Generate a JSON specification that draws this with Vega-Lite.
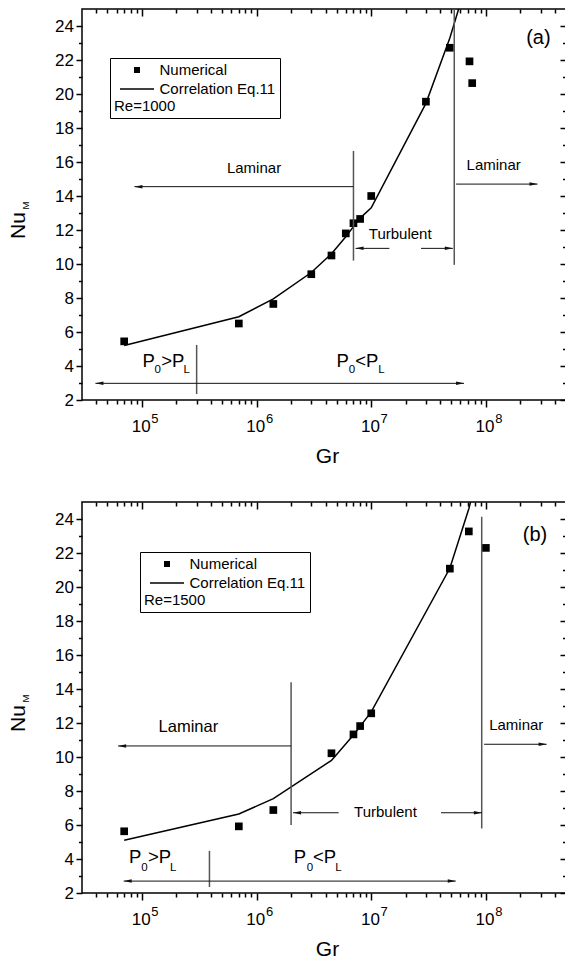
{
  "$schema": "https://vega.github.io/schema/vega-lite/v6.json",
  "padding": {"left": 6, "top": 7, "right": 0, "bottom": 0},
  "bounds": "flush",
  "spacing": 102,
  "resolve": {"scale": {"shape": "independent"}, "legend": {"shape": "independent"}},
  "config": {
    "font": "Liberation Sans",
    "view": {"stroke": "black", "strokeWidth": 1.5},
    "axis": {"domain": false, "grid": false, "tickColor": "black", "tickWidth": 1.5, "labelColor": "black", "titleColor": "black", "titleFontWeight": "normal", "labelFontSize": 17, "titleFontSize": 21, "labelFont": "Liberation Sans", "titleFont": "Liberation Sans"},
    "legend": {"labelFont": "Liberation Sans", "titleFont": "Liberation Sans", "labelFontSize": 15, "titleFontSize": 15, "titleFontWeight": "normal", "labelColor": "black", "titleColor": "black"},
    "text": {"font": "Liberation Sans", "color": "black"}
  },
  "datasets": {
    "num_a": [
      {"Gr": 70000, "Nu": 5.45, "series": "Numerical"},
      {"Gr": 700000, "Nu": 6.5, "series": "Numerical"},
      {"Gr": 1400000, "Nu": 7.65, "series": "Numerical"},
      {"Gr": 3000000, "Nu": 9.4, "series": "Numerical"},
      {"Gr": 4500000, "Nu": 10.5, "series": "Numerical"},
      {"Gr": 6000000, "Nu": 11.8, "series": "Numerical"},
      {"Gr": 7000000, "Nu": 12.4, "series": "Numerical"},
      {"Gr": 8000000, "Nu": 12.65, "series": "Numerical"},
      {"Gr": 10000000, "Nu": 14.0, "series": "Numerical"},
      {"Gr": 30000000, "Nu": 19.55, "series": "Numerical"},
      {"Gr": 48500000, "Nu": 22.72, "series": "Numerical"},
      {"Gr": 72000000, "Nu": 21.92, "series": "Numerical"},
      {"Gr": 76000000, "Nu": 20.64, "series": "Numerical"}
    ],
    "line_a": [
      {"Gr": 70000, "Nu": 5.2},
      {"Gr": 700000, "Nu": 6.9},
      {"Gr": 1400000, "Nu": 7.95},
      {"Gr": 3000000, "Nu": 9.5},
      {"Gr": 4500000, "Nu": 10.6},
      {"Gr": 6000000, "Nu": 11.6},
      {"Gr": 7000000, "Nu": 12.2},
      {"Gr": 8000000, "Nu": 12.7},
      {"Gr": 10000000, "Nu": 13.3},
      {"Gr": 30000000, "Nu": 19.45},
      {"Gr": 48500000, "Nu": 23.3},
      {"Gr": 72000000, "Nu": 27.1}
    ],
    "vlines_a": [
      {"Gr": 7000000, "y1": 10.2, "y2": 16.65},
      {"Gr": 53000000, "y1": 9.95, "y2": 25},
      {"Gr": 300000, "y1": 2.35, "y2": 5.24}
    ],
    "arrows_a": [
      {"x1": 7000000, "x2": 86000, "y": 14.55},
      {"x1": 55000000, "x2": 282000000, "y": 14.7},
      {"x1": 14400000, "x2": 7300000, "y": 10.92},
      {"x1": 27200000, "x2": 51500000, "y": 10.92},
      {"x1": 300000, "x2": 39300, "y": 2.98},
      {"x1": 300000, "x2": 64500000, "y": 2.98}
    ],
    "labels_a": [
      {"Gr": 950000, "Nu": 15.33, "text": "Laminar"},
      {"Gr": 117000000, "Nu": 15.53, "text": "Laminar"},
      {"Gr": 17900000, "Nu": 11.45, "text": "Turbulent"}
    ],
    "pbig_a": [
      {"Gr": 101000, "Nu": 3.96, "text": "P"},
      {"Gr": 147000, "Nu": 3.96, "text": ">P"},
      {"Gr": 4990000, "Nu": 3.96, "text": "P"},
      {"Gr": 7260000, "Nu": 3.96, "text": "<P"}
    ],
    "psmall_a": [
      {"Gr": 129000, "Nu": 3.57, "text": "0"},
      {"Gr": 230000, "Nu": 3.57, "text": "L"},
      {"Gr": 6370000, "Nu": 3.57, "text": "0"},
      {"Gr": 11500000, "Nu": 3.57, "text": "L"}
    ],
    "tag_a": [{"Gr": 287000000, "Nu": 23.32, "text": "(a)"}],
    "num_b": [
      {"Gr": 70000, "Nu": 5.63, "series": "Numerical"},
      {"Gr": 700000, "Nu": 5.92, "series": "Numerical"},
      {"Gr": 1400000, "Nu": 6.88, "series": "Numerical"},
      {"Gr": 4500000, "Nu": 10.22, "series": "Numerical"},
      {"Gr": 7000000, "Nu": 11.33, "series": "Numerical"},
      {"Gr": 8000000, "Nu": 11.82, "series": "Numerical"},
      {"Gr": 10000000, "Nu": 12.57, "series": "Numerical"},
      {"Gr": 48500000, "Nu": 21.08, "series": "Numerical"},
      {"Gr": 71000000, "Nu": 23.27, "series": "Numerical"},
      {"Gr": 100000000, "Nu": 22.3, "series": "Numerical"}
    ],
    "line_b": [
      {"Gr": 70000, "Nu": 5.1},
      {"Gr": 700000, "Nu": 6.65},
      {"Gr": 1400000, "Nu": 7.55},
      {"Gr": 4500000, "Nu": 9.8},
      {"Gr": 7000000, "Nu": 11.3},
      {"Gr": 8000000, "Nu": 11.8},
      {"Gr": 10000000, "Nu": 12.65},
      {"Gr": 48500000, "Nu": 21.1},
      {"Gr": 71000000, "Nu": 24.6},
      {"Gr": 100000000, "Nu": 28.5}
    ],
    "vlines_b": [
      {"Gr": 2000000, "y1": 6.0, "y2": 14.4},
      {"Gr": 92000000, "y1": 5.8, "y2": 24.13},
      {"Gr": 388000, "y1": 2.35, "y2": 4.48}
    ],
    "arrows_b": [
      {"x1": 2000000, "x2": 62000, "y": 10.65},
      {"x1": 96500000, "x2": 339000000, "y": 10.75},
      {"x1": 5200000, "x2": 2080000, "y": 6.72},
      {"x1": 40600000, "x2": 92300000, "y": 6.72},
      {"x1": 388000, "x2": 69300, "y": 2.7},
      {"x1": 388000, "x2": 54600000, "y": 2.7}
    ],
    "labels_b": [
      {"Gr": 184000000, "Nu": 11.59, "text": "Laminar"},
      {"Gr": 13300000, "Nu": 6.49, "text": "Turbulent"}
    ],
    "labels16_b": [
      {"Gr": 254000, "Nu": 11.45, "text": "Laminar"}
    ],
    "pbig_b": [
      {"Gr": 77100, "Nu": 3.75, "text": "P"},
      {"Gr": 113000, "Nu": 3.75, "text": ">P"},
      {"Gr": 2110000, "Nu": 3.75, "text": "P"},
      {"Gr": 3100000, "Nu": 3.75, "text": "<P"}
    ],
    "psmall_b": [
      {"Gr": 98600, "Nu": 3.31, "text": "0"},
      {"Gr": 176000, "Nu": 3.31, "text": "L"},
      {"Gr": 2740000, "Nu": 3.31, "text": "0"},
      {"Gr": 4860000, "Nu": 3.31, "text": "L"}
    ],
    "tag_b": [{"Gr": 268000000, "Nu": 23.06, "text": "(b)"}],
    "sub": [{"Gr": 9740, "Nu": 13.44, "text": "M"}]
  },
  "vconcat": [
    {
      "width": 484, "height": 391,
      "resolve": {"axis": {"x": "independent", "y": "independent"}},
      "layer": [
        {
          "data": {"name": "num_a"},
          "mark": {"type": "point", "filled": true, "color": "black", "opacity": 1, "size": 420},
          "encoding": {
            "x": {"field": "Gr", "type": "quantitative", "scale": {"type": "log", "domain": [30000, 500000000], "nice": false},
                  "axis": {"orient": "bottom", "values": [100000, 1000000, 10000000, 100000000], "labelExpr": "'10'", "tickSize": 7, "labelPadding": 24.7, "labelBaseline": "alphabetic", "labelOffset": -1.3, "labelFlush": false, "labelOverlap": false, "title": "Gr", "titleX": 245, "titleY": 62, "titleBaseline": "alphabetic"}},
            "y": {"field": "Nu", "type": "quantitative", "scale": {"domain": [2, 25], "nice": false, "zero": false},
                  "axis": {"orient": "left", "values": [2, 4, 6, 8, 10, 12, 14, 16, 18, 20, 22, 24], "tickSize": 6, "labelPadding": 2.5, "title": "Nu", "titleY": 216, "titlePadding": 26}},
            "shape": {"field": "series", "type": "nominal",
                      "scale": {"domain": ["Numerical", "Correlation Eq.11"], "range": ["M-0.375,-0.375H0.375V0.375H-0.375Z", "M-2.125,-0.094H2.125V0.094H-2.125Z"]},
                      "legend": {"title": "Re=1000", "orient": "none", "legendX": 28, "legendY": 49, "titleOrient": "bottom", "titlePadding": 2, "symbolSize": 256, "symbolOffset": 15, "labelOffset": 14.5, "padding": 4, "rowPadding": 3, "strokeColor": "black", "fillColor": "white", "symbolStrokeWidth": 0, "symbolFillColor": "black", "symbolOpacity": 1}}
          }
        },
        {
          "data": {"name": "line_a"},
          "mark": {"type": "line", "color": "black", "strokeWidth": 1.5, "clip": true},
          "encoding": {
            "x": {"field": "Gr", "type": "quantitative", "scale": {"type": "log", "domain": [30000, 500000000], "nice": false},
                  "axis": {"orient": "bottom", "values": [40000, 50000, 60000, 70000, 80000, 90000, 200000, 300000, 400000, 500000, 600000, 700000, 800000, 900000, 2000000, 3000000, 4000000, 5000000, 6000000, 7000000, 8000000, 9000000, 20000000, 30000000, 40000000, 50000000, 60000000, 70000000, 80000000, 90000000, 200000000, 300000000, 400000000], "labels": false, "tickSize": 4, "title": null}},
            "y": {"field": "Nu", "type": "quantitative", "scale": {"domain": [2, 25], "nice": false, "zero": false},
                  "axis": {"orient": "left", "values": [3, 5, 7, 9, 11, 13, 15, 17, 19, 21, 23], "labels": false, "tickSize": 3.5, "title": null}}
          }
        },
        {
          "data": {"name": "vlines_a"},
          "mark": {"type": "rule", "color": "#555555", "strokeWidth": 1.5},
          "encoding": {
            "x": {"field": "Gr", "type": "quantitative", "scale": {"type": "log", "domain": [30000, 500000000], "nice": false},
                  "axis": {"orient": "top", "values": [100000, 1000000, 10000000, 100000000], "labels": false, "tickSize": 7, "offset": -7, "title": null}},
            "y": {"field": "y1", "type": "quantitative", "scale": {"domain": [2, 25], "nice": false, "zero": false},
                  "axis": {"orient": "right", "values": [2, 4, 6, 8, 10, 12, 14, 16, 18, 20, 22, 24], "labels": false, "tickSize": 6, "offset": -6, "title": null}},
            "y2": {"field": "y2"}
          }
        },
        {
          "data": {"name": "arrows_a"},
          "mark": {"type": "rule", "color": "#111111", "strokeWidth": 1},
          "encoding": {
            "x": {"field": "x1", "type": "quantitative", "scale": {"type": "log", "domain": [30000, 500000000], "nice": false},
                  "axis": {"orient": "top", "values": [40000, 50000, 60000, 70000, 80000, 90000, 200000, 300000, 400000, 500000, 600000, 700000, 800000, 900000, 2000000, 3000000, 4000000, 5000000, 6000000, 7000000, 8000000, 9000000, 20000000, 30000000, 40000000, 50000000, 60000000, 70000000, 80000000, 90000000, 200000000, 300000000, 400000000], "labels": false, "tickSize": 4, "offset": -4, "title": null}},
            "x2": {"field": "x2"},
            "y": {"field": "y", "type": "quantitative", "scale": {"domain": [2, 25], "nice": false, "zero": false},
                  "axis": {"orient": "right", "values": [3, 5, 7, 9, 11, 13, 15, 17, 19, 21, 23], "labels": false, "tickSize": 3.5, "offset": -3.5, "title": null}}
          }
        },
        {
          "data": {"name": "arrows_a"},
          "transform": [{"filter": "datum.x2 < datum.x1"}],
          "mark": {"type": "point", "shape": "M0,0L4,-0.875L4,0.875Z", "filled": true, "color": "#111111", "opacity": 1, "size": 16},
          "encoding": {
            "x": {"field": "x2", "type": "quantitative", "scale": {"type": "log", "domain": [30000, 500000000], "nice": false}, "axis": null},
            "y": {"field": "y", "type": "quantitative", "scale": {"domain": [2, 25], "nice": false, "zero": false}, "axis": null}
          }
        },
        {
          "data": {"name": "arrows_a"},
          "transform": [{"filter": "datum.x2 > datum.x1"}],
          "mark": {"type": "point", "shape": "M0,0L-4,-0.875L-4,0.875Z", "filled": true, "color": "#111111", "opacity": 1, "size": 16},
          "encoding": {
            "x": {"field": "x2", "type": "quantitative", "scale": {"type": "log", "domain": [30000, 500000000], "nice": false}, "axis": null},
            "y": {"field": "y", "type": "quantitative", "scale": {"domain": [2, 25], "nice": false, "zero": false}, "axis": null}
          }
        },
        {
          "data": {"name": "labels_a"},
          "mark": {"type": "text", "fontSize": 15, "align": "center", "baseline": "alphabetic"},
          "encoding": {
            "x": {"field": "Gr", "type": "quantitative", "scale": {"type": "log", "domain": [30000, 500000000], "nice": false},
                  "axis": {"orient": "bottom", "values": [100000, 1000000, 10000000, 100000000], "labelExpr": "datum.value == 100000 ? '5' : datum.value == 1000000 ? '6' : datum.value == 10000000 ? '7' : '8'", "labelFontSize": 13, "tickSize": 0, "tickOpacity": 0, "labelPadding": 22.7, "labelBaseline": "alphabetic", "labelOffset": 12.5, "labelFlush": false, "labelOverlap": false, "title": null}},
            "y": {"field": "Nu", "type": "quantitative", "scale": {"domain": [2, 25], "nice": false, "zero": false}, "axis": null},
            "text": {"field": "text"}
          }
        },
        {
          "data": {"name": "pbig_a"},
          "mark": {"type": "text", "fontSize": 18.5, "align": "left", "baseline": "alphabetic"},
          "encoding": {
            "x": {"field": "Gr", "type": "quantitative", "scale": {"type": "log", "domain": [30000, 500000000], "nice": false}, "axis": null},
            "y": {"field": "Nu", "type": "quantitative", "scale": {"domain": [2, 25], "nice": false, "zero": false}, "axis": null},
            "text": {"field": "text"}
          }
        },
        {
          "data": {"name": "psmall_a"},
          "mark": {"type": "text", "fontSize": 11.5, "align": "left", "baseline": "alphabetic"},
          "encoding": {
            "x": {"field": "Gr", "type": "quantitative", "scale": {"type": "log", "domain": [30000, 500000000], "nice": false}, "axis": null},
            "y": {"field": "Nu", "type": "quantitative", "scale": {"domain": [2, 25], "nice": false, "zero": false}, "axis": null},
            "text": {"field": "text"}
          }
        },
        {
          "data": {"name": "tag_a"},
          "mark": {"type": "text", "fontSize": 20, "align": "center", "baseline": "middle"},
          "encoding": {
            "x": {"field": "Gr", "type": "quantitative", "scale": {"type": "log", "domain": [30000, 500000000], "nice": false}, "axis": null},
            "y": {"field": "Nu", "type": "quantitative", "scale": {"domain": [2, 25], "nice": false, "zero": false}, "axis": null},
            "text": {"field": "text"}
          }
        },
        {
          "data": {"name": "sub"},
          "mark": {"type": "text", "fontSize": 9.5, "align": "center", "baseline": "middle", "angle": 270},
          "encoding": {
            "x": {"field": "Gr", "type": "quantitative", "scale": {"type": "log", "domain": [30000, 500000000], "nice": false}, "axis": null},
            "y": {"field": "Nu", "type": "quantitative", "scale": {"domain": [2, 25], "nice": false, "zero": false}, "axis": null},
            "text": {"field": "text"}
          }
        }
      ]
    },
    {
      "width": 484, "height": 391,
      "resolve": {"axis": {"x": "independent", "y": "independent"}},
      "layer": [
        {
          "data": {"name": "num_b"},
          "mark": {"type": "point", "filled": true, "color": "black", "opacity": 1, "size": 420},
          "encoding": {
            "x": {"field": "Gr", "type": "quantitative", "scale": {"type": "log", "domain": [30000, 500000000], "nice": false},
                  "axis": {"orient": "bottom", "values": [100000, 1000000, 10000000, 100000000], "labelExpr": "'10'", "tickSize": 7, "labelPadding": 24.7, "labelBaseline": "alphabetic", "labelOffset": -1.3, "labelFlush": false, "labelOverlap": false, "title": "Gr", "titleX": 245, "titleY": 62, "titleBaseline": "alphabetic"}},
            "y": {"field": "Nu", "type": "quantitative", "scale": {"domain": [2, 25], "nice": false, "zero": false},
                  "axis": {"orient": "left", "values": [2, 4, 6, 8, 10, 12, 14, 16, 18, 20, 22, 24], "tickSize": 6, "labelPadding": 2.5, "title": "Nu", "titleY": 216, "titlePadding": 26}},
            "shape": {"field": "series", "type": "nominal",
                      "scale": {"domain": ["Numerical", "Correlation Eq.11"], "range": ["M-0.375,-0.375H0.375V0.375H-0.375Z", "M-2.125,-0.094H2.125V0.094H-2.125Z"]},
                      "legend": {"title": "Re=1500", "orient": "none", "legendX": 58, "legendY": 50, "titleOrient": "bottom", "titlePadding": 2, "symbolSize": 256, "symbolOffset": 15, "labelOffset": 14.5, "padding": 4, "rowPadding": 3, "strokeColor": "black", "fillColor": "white", "symbolStrokeWidth": 0, "symbolFillColor": "black", "symbolOpacity": 1}}
          }
        },
        {
          "data": {"name": "line_b"},
          "mark": {"type": "line", "color": "black", "strokeWidth": 1.5, "clip": true},
          "encoding": {
            "x": {"field": "Gr", "type": "quantitative", "scale": {"type": "log", "domain": [30000, 500000000], "nice": false},
                  "axis": {"orient": "bottom", "values": [40000, 50000, 60000, 70000, 80000, 90000, 200000, 300000, 400000, 500000, 600000, 700000, 800000, 900000, 2000000, 3000000, 4000000, 5000000, 6000000, 7000000, 8000000, 9000000, 20000000, 30000000, 40000000, 50000000, 60000000, 70000000, 80000000, 90000000, 200000000, 300000000, 400000000], "labels": false, "tickSize": 4, "title": null}},
            "y": {"field": "Nu", "type": "quantitative", "scale": {"domain": [2, 25], "nice": false, "zero": false},
                  "axis": {"orient": "left", "values": [3, 5, 7, 9, 11, 13, 15, 17, 19, 21, 23], "labels": false, "tickSize": 3.5, "title": null}}
          }
        },
        {
          "data": {"name": "vlines_b"},
          "mark": {"type": "rule", "color": "#555555", "strokeWidth": 1.5},
          "encoding": {
            "x": {"field": "Gr", "type": "quantitative", "scale": {"type": "log", "domain": [30000, 500000000], "nice": false},
                  "axis": {"orient": "top", "values": [100000, 1000000, 10000000, 100000000], "labels": false, "tickSize": 7, "offset": -7, "title": null}},
            "y": {"field": "y1", "type": "quantitative", "scale": {"domain": [2, 25], "nice": false, "zero": false},
                  "axis": {"orient": "right", "values": [2, 4, 6, 8, 10, 12, 14, 16, 18, 20, 22, 24], "labels": false, "tickSize": 6, "offset": -6, "title": null}},
            "y2": {"field": "y2"}
          }
        },
        {
          "data": {"name": "arrows_b"},
          "mark": {"type": "rule", "color": "#111111", "strokeWidth": 1},
          "encoding": {
            "x": {"field": "x1", "type": "quantitative", "scale": {"type": "log", "domain": [30000, 500000000], "nice": false},
                  "axis": {"orient": "top", "values": [40000, 50000, 60000, 70000, 80000, 90000, 200000, 300000, 400000, 500000, 600000, 700000, 800000, 900000, 2000000, 3000000, 4000000, 5000000, 6000000, 7000000, 8000000, 9000000, 20000000, 30000000, 40000000, 50000000, 60000000, 70000000, 80000000, 90000000, 200000000, 300000000, 400000000], "labels": false, "tickSize": 4, "offset": -4, "title": null}},
            "x2": {"field": "x2"},
            "y": {"field": "y", "type": "quantitative", "scale": {"domain": [2, 25], "nice": false, "zero": false},
                  "axis": {"orient": "right", "values": [3, 5, 7, 9, 11, 13, 15, 17, 19, 21, 23], "labels": false, "tickSize": 3.5, "offset": -3.5, "title": null}}
          }
        },
        {
          "data": {"name": "arrows_b"},
          "transform": [{"filter": "datum.x2 < datum.x1"}],
          "mark": {"type": "point", "shape": "M0,0L4,-0.875L4,0.875Z", "filled": true, "color": "#111111", "opacity": 1, "size": 16},
          "encoding": {
            "x": {"field": "x2", "type": "quantitative", "scale": {"type": "log", "domain": [30000, 500000000], "nice": false}, "axis": null},
            "y": {"field": "y", "type": "quantitative", "scale": {"domain": [2, 25], "nice": false, "zero": false}, "axis": null}
          }
        },
        {
          "data": {"name": "arrows_b"},
          "transform": [{"filter": "datum.x2 > datum.x1"}],
          "mark": {"type": "point", "shape": "M0,0L-4,-0.875L-4,0.875Z", "filled": true, "color": "#111111", "opacity": 1, "size": 16},
          "encoding": {
            "x": {"field": "x2", "type": "quantitative", "scale": {"type": "log", "domain": [30000, 500000000], "nice": false}, "axis": null},
            "y": {"field": "y", "type": "quantitative", "scale": {"domain": [2, 25], "nice": false, "zero": false}, "axis": null}
          }
        },
        {
          "data": {"name": "labels_b"},
          "mark": {"type": "text", "fontSize": 15, "align": "center", "baseline": "alphabetic"},
          "encoding": {
            "x": {"field": "Gr", "type": "quantitative", "scale": {"type": "log", "domain": [30000, 500000000], "nice": false},
                  "axis": {"orient": "bottom", "values": [100000, 1000000, 10000000, 100000000], "labelExpr": "datum.value == 100000 ? '5' : datum.value == 1000000 ? '6' : datum.value == 10000000 ? '7' : '8'", "labelFontSize": 13, "tickSize": 0, "tickOpacity": 0, "labelPadding": 22.7, "labelBaseline": "alphabetic", "labelOffset": 12.5, "labelFlush": false, "labelOverlap": false, "title": null}},
            "y": {"field": "Nu", "type": "quantitative", "scale": {"domain": [2, 25], "nice": false, "zero": false}, "axis": null},
            "text": {"field": "text"}
          }
        },
        {
          "data": {"name": "labels16_b"},
          "mark": {"type": "text", "fontSize": 16.5, "align": "center", "baseline": "alphabetic"},
          "encoding": {
            "x": {"field": "Gr", "type": "quantitative", "scale": {"type": "log", "domain": [30000, 500000000], "nice": false}, "axis": null},
            "y": {"field": "Nu", "type": "quantitative", "scale": {"domain": [2, 25], "nice": false, "zero": false}, "axis": null},
            "text": {"field": "text"}
          }
        },
        {
          "data": {"name": "pbig_b"},
          "mark": {"type": "text", "fontSize": 18.5, "align": "left", "baseline": "alphabetic"},
          "encoding": {
            "x": {"field": "Gr", "type": "quantitative", "scale": {"type": "log", "domain": [30000, 500000000], "nice": false}, "axis": null},
            "y": {"field": "Nu", "type": "quantitative", "scale": {"domain": [2, 25], "nice": false, "zero": false}, "axis": null},
            "text": {"field": "text"}
          }
        },
        {
          "data": {"name": "psmall_b"},
          "mark": {"type": "text", "fontSize": 11.5, "align": "left", "baseline": "alphabetic"},
          "encoding": {
            "x": {"field": "Gr", "type": "quantitative", "scale": {"type": "log", "domain": [30000, 500000000], "nice": false}, "axis": null},
            "y": {"field": "Nu", "type": "quantitative", "scale": {"domain": [2, 25], "nice": false, "zero": false}, "axis": null},
            "text": {"field": "text"}
          }
        },
        {
          "data": {"name": "tag_b"},
          "mark": {"type": "text", "fontSize": 20, "align": "center", "baseline": "middle"},
          "encoding": {
            "x": {"field": "Gr", "type": "quantitative", "scale": {"type": "log", "domain": [30000, 500000000], "nice": false}, "axis": null},
            "y": {"field": "Nu", "type": "quantitative", "scale": {"domain": [2, 25], "nice": false, "zero": false}, "axis": null},
            "text": {"field": "text"}
          }
        },
        {
          "data": {"name": "sub"},
          "mark": {"type": "text", "fontSize": 9.5, "align": "center", "baseline": "middle", "angle": 270},
          "encoding": {
            "x": {"field": "Gr", "type": "quantitative", "scale": {"type": "log", "domain": [30000, 500000000], "nice": false}, "axis": null},
            "y": {"field": "Nu", "type": "quantitative", "scale": {"domain": [2, 25], "nice": false, "zero": false}, "axis": null},
            "text": {"field": "text"}
          }
        }
      ]
    }
  ]
}
